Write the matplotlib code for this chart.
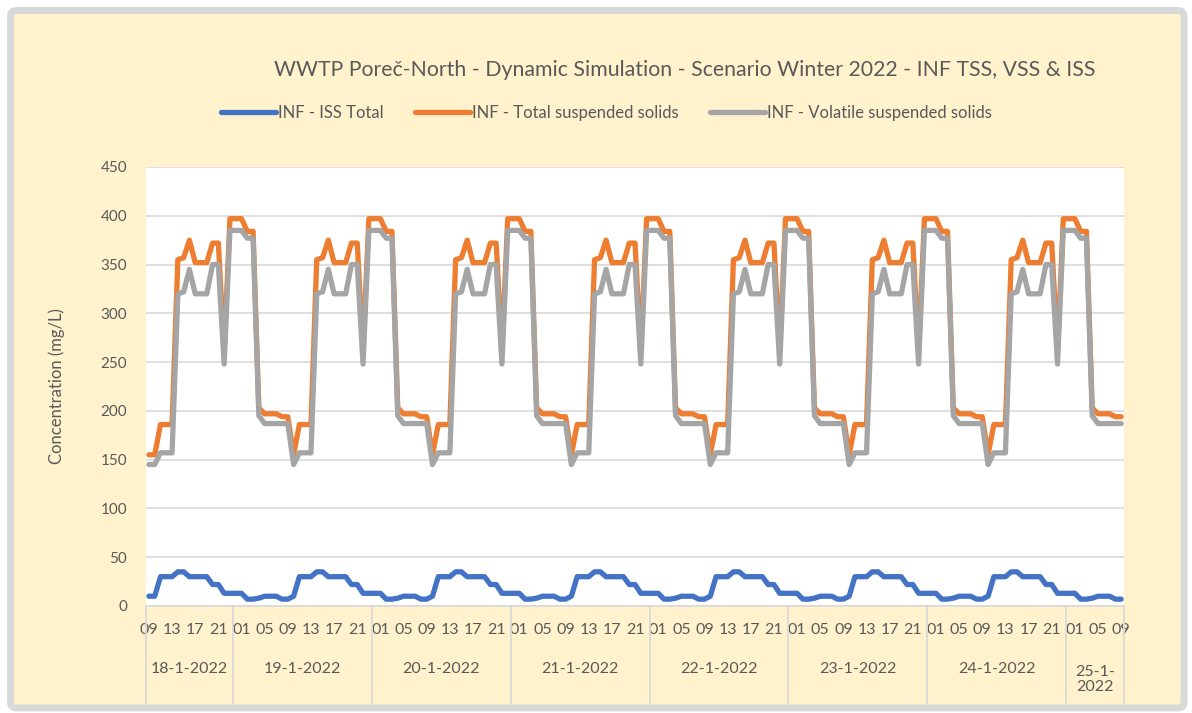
import numpy as np
import matplotlib
matplotlib.use('Agg')
import matplotlib.pyplot as plt
from matplotlib.patches import FancyBboxPatch
from matplotlib.transforms import IdentityTransform, blended_transform_factory

plt.rcParams['font.family'] = ['Lato', 'DejaVu Sans']

# Data to be represented (mg/L), hourly from 18-1-2022 09:00 to 25-1-2022 09:00
# first sample, then the daily profile (10:00 ... 09:00) which repeats every day
tss_start = 155
vss_start = 145
iss_start = 10
tss_day = [155, 186, 186, 186, 355, 357, 375, 352, 352, 352, 372, 372,
           261, 397, 397, 397, 384, 384, 203, 197, 197, 197, 194, 194]
vss_day = [145, 157, 157, 157, 320, 322, 345, 320, 320, 320, 350, 350,
           248, 385, 385, 385, 377, 377, 195, 187, 187, 187, 187, 187]
iss_day = [10, 30, 30, 30, 35, 35, 30, 30, 30, 30, 22, 22,
           13, 13, 13, 13, 7, 7, 8, 10, 10, 10, 7, 7]
n_days = 7
start_hour = 9
day_labels = ['18-1-2022', '19-1-2022', '20-1-2022', '21-1-2022',
              '22-1-2022', '23-1-2022', '24-1-2022', '25-1-\n2022']
y_ticks = [0, 50, 100, 150, 200, 250, 300, 350, 400, 450]
title = 'WWTP Poreč-North - Dynamic Simulation - Scenario Winter 2022 - INF TSS, VSS & ISS'

tss = [tss_start] + tss_day * n_days
vss = [vss_start] + vss_day * n_days
iss = [iss_start] + iss_day * n_days
X = np.arange(len(tss))
hours = [(start_hour + i) % 24 for i in X]

text_color = '#595959'
grid_color = '#D9D9D9'

fig = plt.figure(figsize=(11.92, 7.13), dpi=100, facecolor='white')

# cream chart area with light grey frame (pixel coordinates)
frame = FancyBboxPatch((10.5, 5), 1173.5, 697.5,
                       boxstyle='round,pad=0,rounding_size=6',
                       transform=IdentityTransform(),
                       facecolor='#FFF2CC', edgecolor=grid_color,
                       linewidth=5, zorder=-10)
fig.patches.append(frame)

axes = fig.add_axes([0.1225, 0.1501, 0.8205, 0.6157])
axes.set_zorder(5)
axes.set_facecolor('white')

l1, = axes.plot(X, iss, color='#4472C4', linewidth=3.8,
                solid_joinstyle='round', solid_capstyle='round')
l2, = axes.plot(X, tss, color='#ED7D31', linewidth=3.8,
                solid_joinstyle='round', solid_capstyle='round')
l3, = axes.plot(X, vss, color='#A5A5A5', linewidth=3.8,
                solid_joinstyle='round', solid_capstyle='round')

axes.set_xlim(-0.5, len(X) - 0.5)
axes.set_ylim(0, 450)
axes.set_yticks(y_ticks)
axes.yaxis.grid(True, color=grid_color, linewidth=1.2)
axes.set_axisbelow(True)

tick_pos = X[::4]
axes.set_xticks(tick_pos)
axes.set_xticklabels(['%02d' % hours[i] for i in tick_pos])
axes.tick_params(axis='x', length=0, pad=12.5, labelsize=11.5,
                 labelcolor=text_color)
axes.tick_params(axis='y', length=0, pad=13.5, labelsize=11,
                 labelcolor=text_color)

for side in ['left', 'right', 'top']:
    axes.spines[side].set_visible(False)
axes.spines['bottom'].set_color(grid_color)
axes.spines['bottom'].set_linewidth(1.2)

# second level of the category axis: day boxes
trans = blended_transform_factory(axes.transData, axes.transAxes)
bounds = [-0.5] + [i - 0.5 for i in X if hours[i] == 0] + [len(X) - 0.5]
for b in bounds:
    axes.plot([b, b], [0, -0.221], transform=trans, color=grid_color,
              linewidth=1.3, clip_on=False)
for d, label in enumerate(day_labels):
    center = (bounds[d] + bounds[d + 1]) / 2
    ypos = -0.1674 if '\n' in label else -0.1435
    axes.text(center, ypos, label, transform=trans, ha='center', va='center',
              fontsize=11.5, color=text_color, linespacing=1.15)

fig.legend([l1, l2, l3],
           ['INF - ISS Total', 'INF - Total suspended solids',
            'INF - Volatile suspended solids'],
           loc='center', bbox_to_anchor=(0.5088, 0.8415), ncol=3,
           frameon=False, fontsize=12, handlelength=3.3,
           handletextpad=0.15, columnspacing=1.85, labelcolor=text_color)

fig.text(0.5747, 0.9018, title, ha='center', va='center', fontsize=15.3,
         color=text_color)
fig.text(0.048, 0.4586, 'Concentration (mg/L)', rotation=90, ha='center',
         va='center', fontsize=12, color=text_color)

fig.savefig('out.png', dpi=100, facecolor=fig.get_facecolor())
